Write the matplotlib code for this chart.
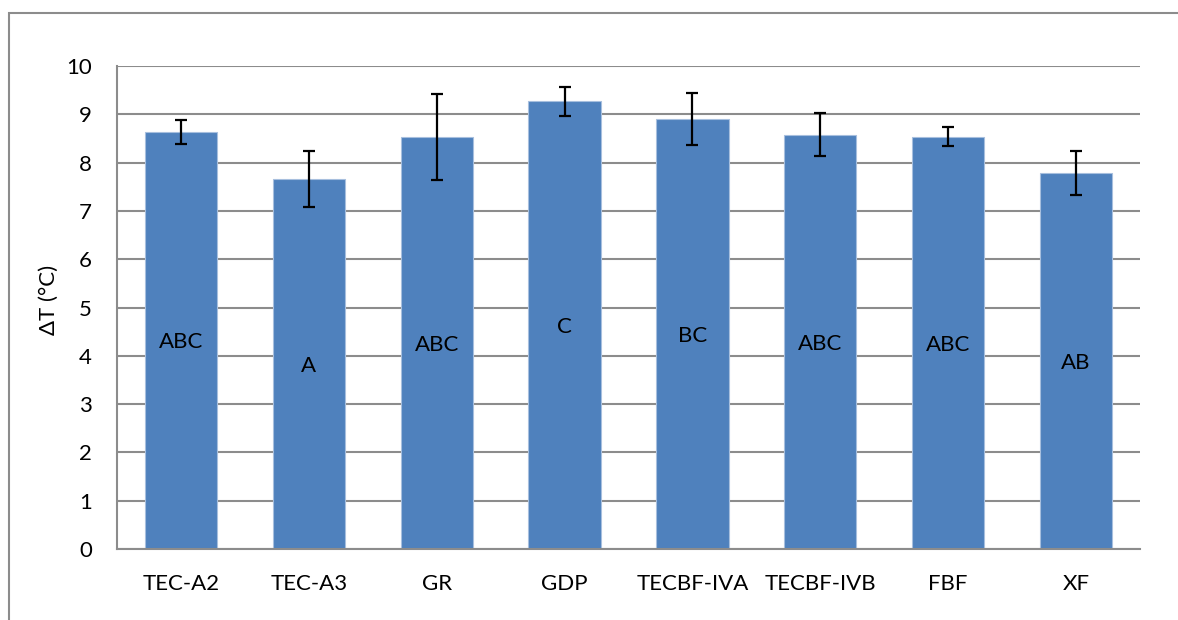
import matplotlib.pyplot as plt
from matplotlib.patches import Rectangle
import numpy as np

categories = ["TEC-A2", "TEC-A3", "GR", "GDP", "TECBF-IVA", "TECBF-IVB", "FBF", "XF"]
delta_t = [8.64, 7.66, 8.53, 9.27, 8.90, 8.58, 8.54, 7.78]
errors = [0.245, 0.58, 0.88, 0.295, 0.535, 0.445, 0.19, 0.45]
letters = ["ABC", "A", "ABC", "C", "BC", "ABC", "ABC", "AB"]

plt.rcParams['font.family'] = ['Lato', 'DejaVu Sans']
grid_col = '#8c8c8c'

fig = plt.figure(figsize=(11.78, 6.2), dpi=100)
ax = fig.add_axes([117 / 1178, 1 - 549 / 620, (1140 - 117) / 1178, (549 - 66) / 620])

# outer chart border, runs off the right and bottom edge
fig.patches.append(Rectangle((9 / 1178, -0.1), 1.2, 1.1 - 13 / 620, transform=fig.transFigure,
                             fill=False, edgecolor=grid_col, linewidth=1.5))

x = np.arange(len(categories))
ax.bar(x, delta_t, width=0.565, color='#4F81BD', edgecolor='#a7bfde', linewidth=0.8, zorder=2)
ax.errorbar(x, delta_t, yerr=errors, fmt='none', ecolor='black', elinewidth=1.6,
            capsize=4.5, capthick=1.6, zorder=3)

for xi, v, lab in zip(x, delta_t, letters):
    ax.text(xi, v / 2, lab, ha='center', va='center_baseline', fontsize=16, color='black', zorder=4)

ax.set_xlim(-0.5, len(categories) - 0.5)
ax.set_ylim(0, 10)
ax.set_yticks(range(0, 11))
ax.yaxis.grid(True, color=grid_col, linewidth=1.5, zorder=0)
ax.set_axisbelow(True)
ax.set_xticks(x)
ax.set_xticklabels(categories)
ax.tick_params(axis='both', length=0, labelsize=16)
ax.tick_params(axis='y', pad=18)
ax.tick_params(axis='x', pad=18)
for s in ['top', 'right']:
    ax.spines[s].set_visible(False)
for s in ['left', 'bottom']:
    ax.spines[s].set_color(grid_col)
    ax.spines[s].set_linewidth(1.5)

fig.text(49 / 1178, 1 - 300 / 620, "ΔT (°C)", rotation=90, ha='center', va='center', fontsize=16)

fig.savefig("out.png", dpi=100)
